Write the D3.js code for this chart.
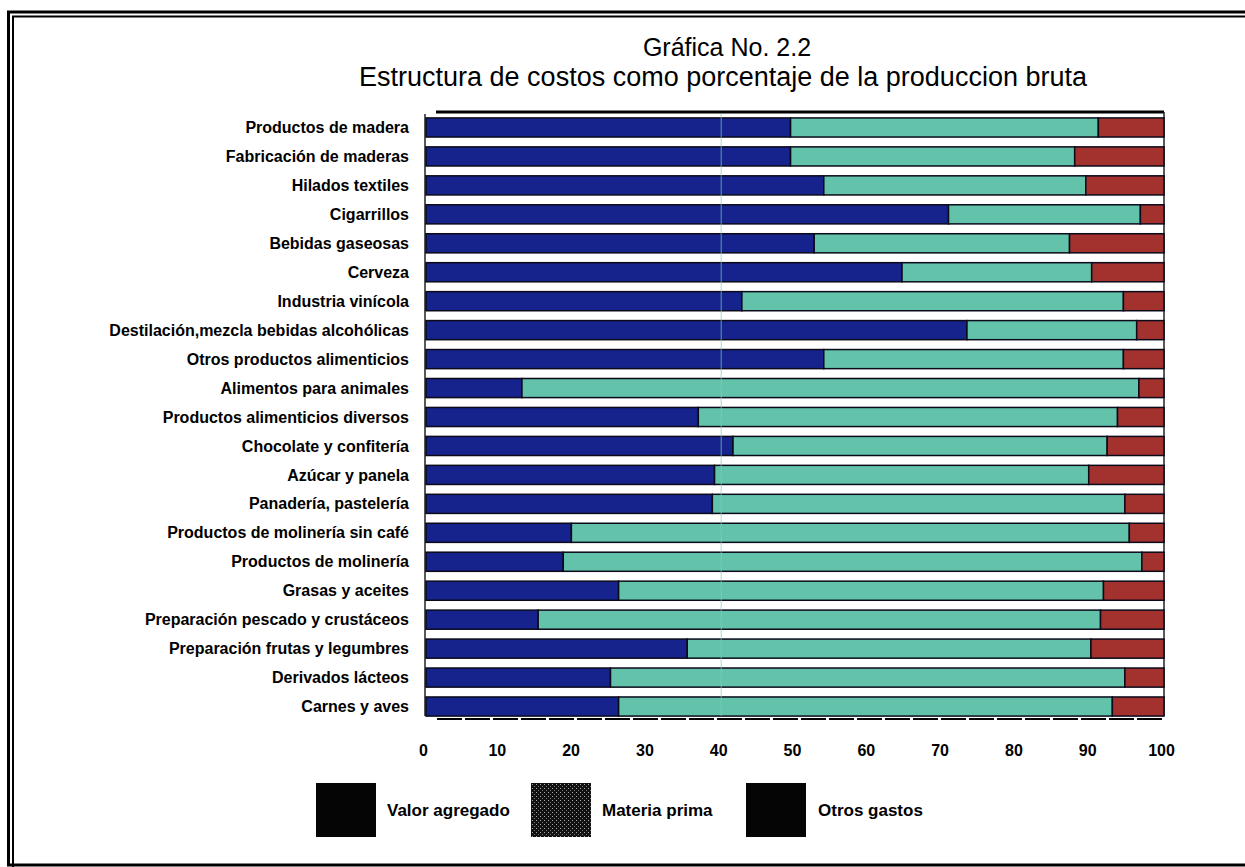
<!doctype html>
<html>
<head>
<meta charset="utf-8">
<script src="https://d3js.org/d3.v7.min.js"></script>
<style>
  body { margin: 0; background: #fff; }
  svg { display: block; }
</style>
</head>
<body>
<script>
// categories from top to bottom
var categorias = [
  "Productos de madera",
  "Fabricación de maderas",
  "Hilados textiles",
  "Cigarrillos",
  "Bebidas gaseosas",
  "Cerveza",
  "Industria vinícola",
  "Destilación,mezcla bebidas alcohólicas",
  "Otros productos alimenticios",
  "Alimentos para animales",
  "Productos alimenticios diversos",
  "Chocolate y confitería",
  "Azúcar y panela",
  "Panadería, pastelería",
  "Productos de molinería sin café",
  "Productos de molinería",
  "Grasas y aceites",
  "Preparación pescado y crustáceos",
  "Preparación frutas y legumbres",
  "Derivados lácteos",
  "Carnes y aves"
];
var valorAgregado = [49.4, 49.4, 53.9, 70.8, 52.6, 64.5, 42.8, 73.3, 53.9, 13.0, 36.9,
                     41.6, 39.1, 38.8, 19.7, 18.6, 26.1, 15.2, 35.4, 25.0, 26.1];
var materiaPrima  = [41.7, 38.5, 35.5, 26.0, 34.6, 25.7, 51.7, 23.0, 40.6, 83.6, 56.8,
                     50.7, 50.7, 55.9, 75.6, 78.4, 65.7, 76.2, 54.7, 69.7, 66.9];
var otrosGastos   = [8.9, 12.1, 10.6, 3.2, 12.8, 9.8, 5.5, 3.7, 5.5, 3.4, 6.3,
                     7.7, 10.2, 5.3, 4.7, 3.0, 8.2, 8.6, 9.9, 5.3, 7.0];
var series = ["Valor agregado", "Materia prima", "Otros gastos"];
var ticks = [0, 10, 20, 30, 40, 50, 60, 70, 80, 90, 100];

var W = 1245, H = 867;
var colores = ["#17238c", "#62c2aa", "#a3322f"];
var fuente = "Liberation Sans, Arial, Helvetica, sans-serif";

var svg = d3.select("body").append("svg")
    .attr("width", W)
    .attr("height", H);

var defs = svg.append("defs");
var pat = defs.append("pattern")
    .attr("id", "dots")
    .attr("width", 4).attr("height", 4)
    .attr("patternUnits", "userSpaceOnUse");
pat.append("rect").attr("width", 4).attr("height", 4).attr("fill", "#111");
pat.append("rect").attr("x", 1).attr("y", 1).attr("width", 1).attr("height", 1).attr("fill", "#aaa");
pat.append("rect").attr("x", 3).attr("y", 3).attr("width", 1).attr("height", 1).attr("fill", "#777");

// double frame (right side runs off the page)
svg.append("rect")
    .attr("x", 8.5).attr("y", 12).attr("width", 1260).attr("height", 853)
    .attr("fill", "none").attr("stroke", "#000").attr("stroke-width", 3);
svg.append("rect")
    .attr("x", 13).attr("y", 16.5).attr("width", 1260).attr("height", 880)
    .attr("fill", "none").attr("stroke", "#000").attr("stroke-width", 2);

// titles
svg.append("text")
    .attr("x", 727).attr("y", 56)
    .attr("text-anchor", "middle")
    .attr("font-family", fuente)
    .attr("font-size", 25)
    .text("Gráfica No. 2.2");
svg.append("text")
    .attr("x", 723).attr("y", 86)
    .attr("text-anchor", "middle")
    .attr("font-family", fuente)
    .attr("font-size", 27)
    .text("Estructura de costos como porcentaje de la produccion bruta");

var x = d3.scaleLinear().domain([0, 100]).range([426, 1164]);
var y = d3.scaleBand().domain(categorias).range([113, 721])
    .paddingInner(0.34).paddingOuter(0.17);

var filas = categorias.map(function(c, i) {
  return { cat: c, va: valorAgregado[i], mp: materiaPrima[i], og: otrosGastos[i] };
});
var capas = d3.stack().keys(["va", "mp", "og"])(filas);

// plot frame lines
svg.append("line")
    .attr("x1", 436).attr("x2", x(100)).attr("y1", 112).attr("y2", 112)
    .attr("stroke", "#000").attr("stroke-width", 3);
svg.append("line")
    .attr("x1", x(0) - 1).attr("x2", x(0) - 1).attr("y1", 114).attr("y2", 716)
    .attr("stroke", "#222").attr("stroke-width", 1.5);
svg.append("line")
    .attr("x1", x(100)).attr("x2", x(100)).attr("y1", 112).attr("y2", 716)
    .attr("stroke", "#222").attr("stroke-width", 1.5);

svg.append("g").selectAll("g.capa")
  .data(capas)
  .enter().append("g")
    .attr("class", "capa")
    .attr("fill", function(d, i) { return colores[i]; })
  .selectAll("rect")
  .data(function(d) { return d; })
  .enter().append("rect")
    .attr("x", function(d) { return x(d[0]); })
    .attr("width", function(d) { return x(d[1]) - x(d[0]); })
    .attr("y", function(d) { return y(d.data.cat); })
    .attr("height", y.bandwidth())
    .attr("stroke", "#0a0a1a")
    .attr("stroke-width", 1.5);

// faint vertical line at 40
svg.append("line")
    .attr("x1", x(40)).attr("x2", x(40)).attr("y1", 114).attr("y2", 716)
    .attr("stroke", "#7fd0c0").attr("stroke-width", 1).attr("opacity", 0.7);

// dashed base line
svg.append("line")
    .attr("x1", 437).attr("x2", x(100)).attr("y1", 719).attr("y2", 719)
    .attr("stroke", "#000").attr("stroke-width", 2)
    .attr("stroke-dasharray", "25,3");

// category labels
svg.append("g").selectAll("text")
  .data(categorias)
  .enter().append("text")
    .attr("x", 409)
    .attr("y", function(d) { return y(d) + y.bandwidth() / 2; })
    .attr("dy", "0.35em")
    .attr("text-anchor", "end")
    .attr("font-family", fuente)
    .attr("font-weight", "bold")
    .attr("font-size", 16)
    .text(function(d) { return d; });

// x axis
var ax = svg.append("g")
    .attr("transform", "translate(-3,745)")
    .call(d3.axisBottom(x).tickValues(ticks).tickSize(0).tickPadding(0));
ax.select(".domain").remove();
ax.selectAll("text")
    .attr("font-family", fuente)
    .attr("font-weight", "bold")
    .attr("font-size", 16)
    .attr("fill", "#000");

// legend
var legX = [316, 531, 746];
var legend = svg.append("g").selectAll("g")
  .data(series)
  .enter().append("g")
    .attr("transform", function(d, i) { return "translate(" + legX[i] + ",783)"; });
legend.append("rect")
    .attr("width", 60).attr("height", 54)
    .attr("fill", function(d, i) { return i === 1 ? "url(#dots)" : "#050505"; });
legend.append("text")
    .attr("x", function(d, i) { return i === 2 ? 72 : 71; })
    .attr("y", 27).attr("dy", "0.35em")
    .attr("font-family", fuente)
    .attr("font-weight", "bold")
    .attr("font-size", 17)
    .text(function(d) { return d; });
</script>
</body>
</html>
